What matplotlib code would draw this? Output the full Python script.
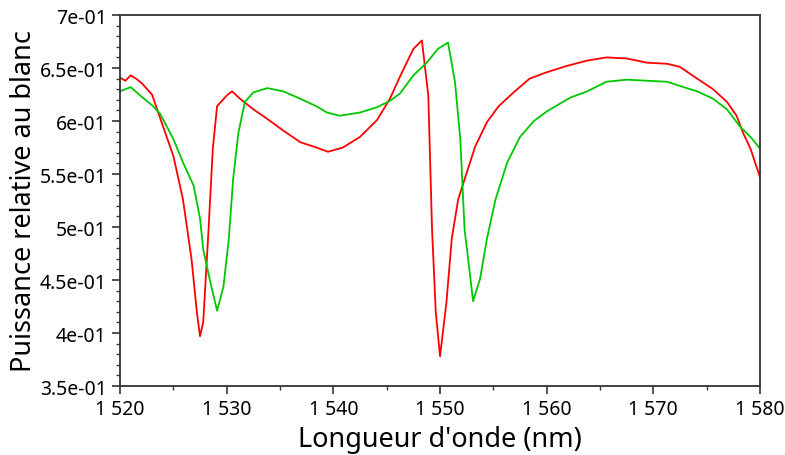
import numpy as np
import matplotlib.pyplot as plt
from matplotlib.ticker import FuncFormatter, MultipleLocator

# ------------------------------- DATA --------------------------------------- #

# red curve (wavelength nm, relative power)
wl_red = [1520.0, 1520.5, 1521.0, 1521.5, 1522.0, 1523.0, 1523.75, 1525.0, 1525.9,
          1526.7, 1527.2, 1527.5, 1527.8, 1528.3, 1528.7, 1529.1, 1530.0, 1530.5,
          1531.25, 1532.5, 1533.8, 1535.3, 1536.9, 1538.4, 1539.5, 1540.9, 1542.5,
          1544.1, 1545.3, 1546.25, 1547.5, 1548.3, 1548.9, 1549.25, 1549.6, 1550.0,
          1550.6, 1551.1, 1551.7, 1552.3, 1553.3, 1554.4, 1555.5, 1556.9, 1558.4,
          1560.0, 1561.9, 1563.8, 1565.6, 1567.5, 1569.4, 1571.3, 1572.5, 1574.1,
          1575.6, 1576.9, 1577.8, 1578.4, 1579.1, 1580.0]
p_red = [0.641, 0.638, 0.643, 0.640, 0.636, 0.625, 0.603, 0.567, 0.526,
         0.470, 0.420, 0.397, 0.410, 0.498, 0.574, 0.614, 0.624, 0.628,
         0.621, 0.611, 0.602, 0.591, 0.580, 0.575, 0.571, 0.575, 0.585,
         0.601, 0.621, 0.642, 0.668, 0.676, 0.624, 0.498, 0.420, 0.378,
         0.429, 0.489, 0.526, 0.545, 0.576, 0.599, 0.614, 0.627, 0.640,
         0.646, 0.652, 0.657, 0.660, 0.659, 0.655, 0.654, 0.651, 0.640,
         0.630, 0.618, 0.605, 0.589, 0.574, 0.547]

# green curve
wl_green = [1520.0, 1521.0, 1521.9, 1523.1, 1523.75, 1525.0, 1525.9, 1526.9, 1527.5,
            1527.8, 1528.4, 1529.1, 1529.7, 1530.2, 1530.6, 1531.1, 1531.7, 1532.5,
            1533.8, 1535.3, 1536.9, 1538.4, 1539.4, 1540.6, 1542.5, 1544.1, 1545.3,
            1546.25, 1547.5, 1548.75, 1549.8, 1550.75, 1551.4, 1551.9, 1552.3, 1553.1,
            1553.75, 1554.4, 1555.2, 1556.3, 1557.5, 1558.8, 1560.0, 1562.2, 1563.8,
            1565.6, 1567.5, 1569.4, 1571.3, 1572.5, 1574.1, 1575.6, 1576.9, 1578.1,
            1579.1, 1580.0]
p_green = [0.628, 0.632, 0.624, 0.614, 0.607, 0.583, 0.561, 0.539, 0.508,
           0.479, 0.451, 0.421, 0.444, 0.489, 0.545, 0.589, 0.618, 0.627,
           0.631, 0.628, 0.621, 0.614, 0.608, 0.605, 0.608, 0.613, 0.619,
           0.626, 0.643, 0.655, 0.668, 0.674, 0.637, 0.583, 0.498, 0.430,
           0.451, 0.489, 0.526, 0.561, 0.585, 0.600, 0.609, 0.622, 0.628,
           0.637, 0.639, 0.638, 0.637, 0.633, 0.628, 0.621, 0.611, 0.595,
           0.585, 0.574]

# ------------------------------- PLOT --------------------------------------- #

plt.rcParams['font.family'] = ['Noto Sans', 'DejaVu Sans']

fig = plt.figure(figsize=(7.85, 4.56), dpi=100)
ax = fig.add_axes([0.1529, 0.1513, 0.8153, 0.8136])

ax.plot(wl_red, p_red, color='#ff0000', lw=1.3)
ax.plot(wl_green, p_green, color='#00c800', lw=1.3)

ax.set_xlim(1520, 1580)
ax.set_ylim(0.35, 0.70)
ax.xaxis.set_major_locator(MultipleLocator(10))
ax.xaxis.set_minor_locator(MultipleLocator(5))
ax.yaxis.set_major_locator(MultipleLocator(0.05))
ax.yaxis.set_minor_locator(MultipleLocator(0.01))

ax.xaxis.set_major_formatter(FuncFormatter(lambda v, p: f'{int(round(v)):,}'.replace(',', ' ')))
ax.yaxis.set_major_formatter(FuncFormatter(lambda v, p: f'{v:.1e}'.replace('.0e', 'e')))

ax.tick_params(which='both', direction='out', top=False, right=False, colors='#333333',
               labelcolor='black', labelsize=14)
ax.tick_params(which='major', length=6, width=1.2)
ax.tick_params(which='minor', length=3, width=1)
for s in ax.spines.values():
    s.set_color('#333333')
    s.set_linewidth(1.3)

ax.set_xlabel("Longueur d'onde (nm)", fontsize=19.5, labelpad=4)
ax.set_ylabel('Puissance relative au blanc', fontsize=19.5, labelpad=1)

fig.savefig('out.png', dpi=100)
